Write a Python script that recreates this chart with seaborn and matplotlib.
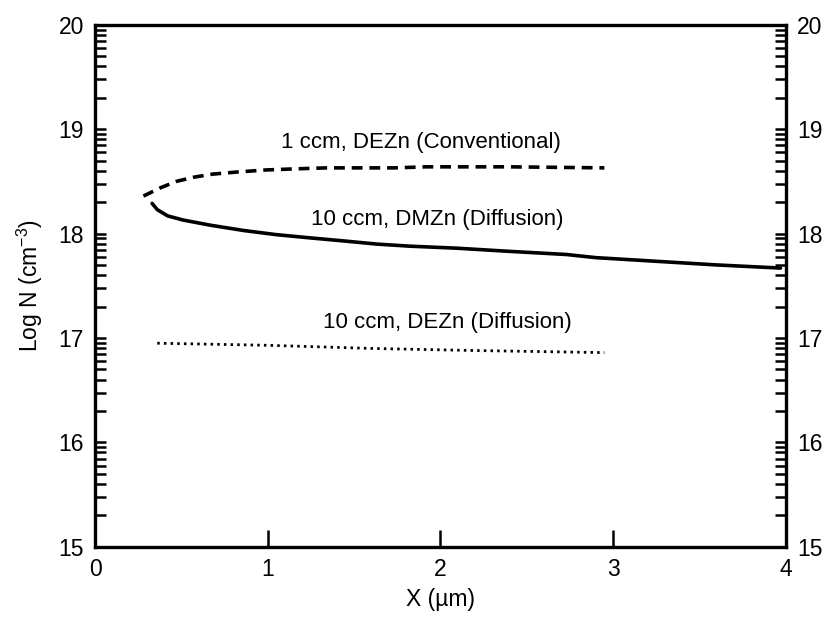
import numpy as np
import pandas as pd
import matplotlib
matplotlib.use("Agg")
import matplotlib.pyplot as plt
import seaborn as sns

# ---- data (x in µm, y = log10 N) ----
conv_x = [0.28, 0.38, 0.47, 0.57, 0.68, 0.82, 0.99, 1.15, 1.34, 1.53, 1.73, 1.92, 2.40, 2.95]
conv_y = [18.36, 18.44, 18.50, 18.54, 18.57, 18.59, 18.61, 18.62, 18.63, 18.63, 18.63, 18.64, 18.64, 18.63]

dmzn_x = [0.33, 0.36, 0.42, 0.51, 0.67, 0.86, 1.05, 1.24, 1.44, 1.63, 1.82, 2.10, 2.40, 2.73, 2.90, 3.20, 3.60, 3.97]
dmzn_y = [18.29, 18.23, 18.17, 18.13, 18.08, 18.03, 17.99, 17.96, 17.93, 17.90, 17.88, 17.86, 17.83, 17.80, 17.77, 17.74, 17.70, 17.67]

dezn_x = [0.36, 1.00, 1.60, 2.20, 2.95]
dezn_y = [16.95, 16.93, 16.90, 16.88, 16.86]

labels = ["1 ccm, DEZn (Conventional)", "10 ccm, DMZn (Diffusion)", "10 ccm, DEZn (Diffusion)"]
label_pos = [(1.89, 18.87), (1.98, 18.14), (2.04, 17.15)]

x_ticks = [0, 1, 2, 3, 4]
y_major = [15, 16, 17, 18, 19, 20]

sns.set_style("white")
plt.rcParams["font.family"] = ["Liberation Sans", "DejaVu Sans"]
plt.rcParams["mathtext.fontset"] = "custom"
plt.rcParams["mathtext.rm"] = "Liberation Sans"
plt.rcParams["mathtext.it"] = "Liberation Sans"
plt.rcParams["text.color"] = "black"
plt.rcParams["axes.labelcolor"] = "black"

fig = plt.figure(figsize=(8.27, 6.22), dpi=100)
ax = fig.add_axes([0.115, 0.121, 0.835, 0.839])

df_conv = pd.DataFrame({"x": conv_x, "y": conv_y})
df_dmzn = pd.DataFrame({"x": dmzn_x, "y": dmzn_y})
df_dezn = pd.DataFrame({"x": dezn_x, "y": dezn_y})

sns.lineplot(data=df_conv, x="x", y="y", ax=ax, color="black", lw=2.6,
             sort=False, estimator=None)
ax.lines[-1].set_dashes((3.0, 1.9))
sns.lineplot(data=df_dmzn, x="x", y="y", ax=ax, color="black", lw=2.6,
             sort=False, estimator=None)
sns.lineplot(data=df_dezn, x="x", y="y", ax=ax, color="black", lw=2.0,
             sort=False, estimator=None)
ax.lines[-1].set_dashes((0.9, 1.5))

for t, (tx, ty) in zip(labels, label_pos):
    ax.text(tx, ty, t, ha="center", va="center", fontsize=16, color="black")

ax.set_xlim(0, 4)
ax.set_ylim(15, 20)
ax.set_xticks(x_ticks)
ax.set_xticklabels([str(v) for v in x_ticks])
ax.set_yticks(y_major)
ax.set_yticklabels([str(v) for v in y_major])
minor = [d + np.log10(k) for d in y_major[:-1] for k in range(2, 10)]
ax.set_yticks(minor, minor=True)

for s in ax.spines.values():
    s.set_linewidth(2.4)
    s.set_color("black")

ax.tick_params(axis="y", which="both", direction="in", left=True, right=True,
               labelleft=True, labelright=True, length=8, width=1.8,
               labelsize=16.5, pad=8, colors="black")
ax.tick_params(axis="x", which="major", direction="in", bottom=True, top=False,
               length=12, width=1.8, labelsize=16.5, pad=8, colors="black")

ax.set_xlabel("X (µm)", fontsize=16.5, labelpad=5)
ax.set_ylabel(r"Log N (cm$^{-3}$)", fontsize=16.5, labelpad=10)
ax.grid(False)

fig.savefig("out.png", dpi=100)
